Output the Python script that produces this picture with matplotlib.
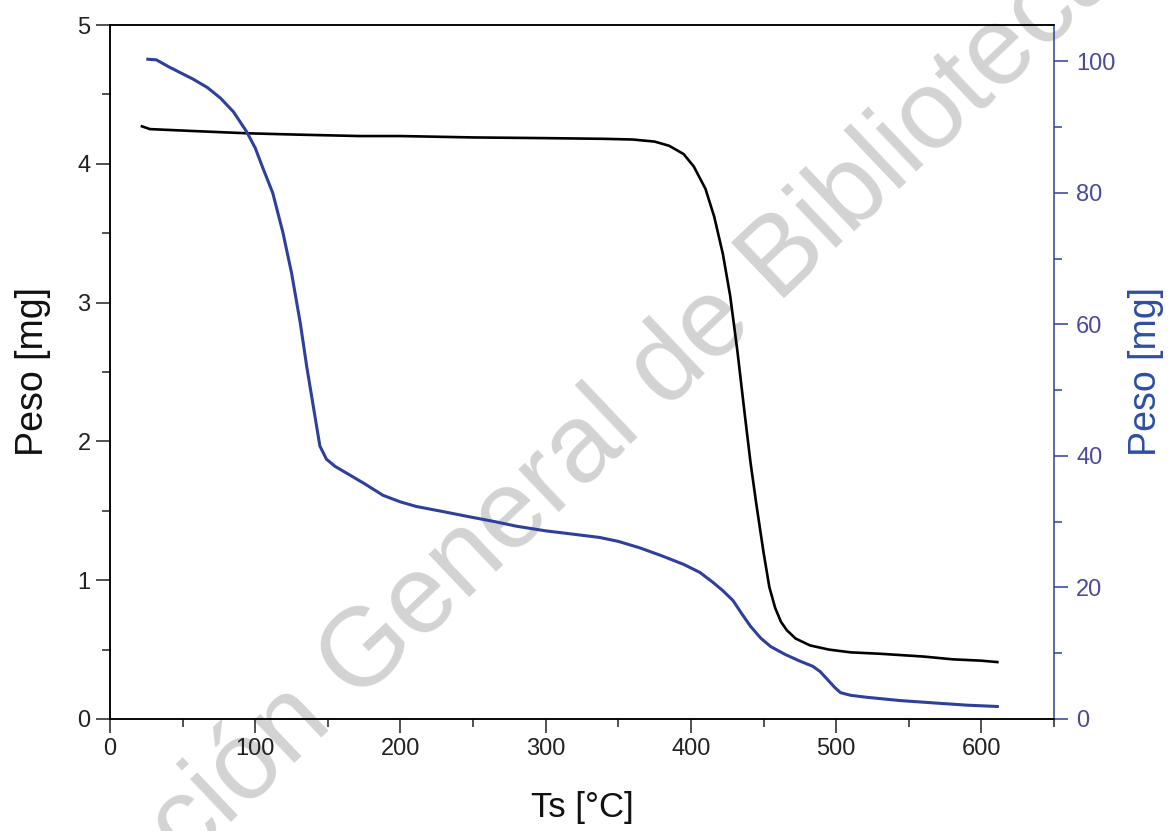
import numpy as np
import matplotlib.pyplot as plt
from matplotlib.ticker import MultipleLocator

plt.rcParams['font.family'] = ['Liberation Sans', 'DejaVu Sans']

# black curve, left axis (mg)
temp_black = [22, 27.5, 60, 94, 130, 172, 200, 250, 300, 340, 360, 375, 385, 395,
              402, 410, 416, 422, 427, 432, 437, 441, 445, 450, 454, 458, 462,
              466, 472, 482, 495, 510, 530, 545, 560, 580, 600, 611]
peso_black = [4.27, 4.25, 4.235, 4.22, 4.21, 4.20, 4.20, 4.19, 4.185, 4.18, 4.175,
              4.16, 4.13, 4.07, 3.98, 3.82, 3.62, 3.35, 3.05, 2.65, 2.20, 1.85,
              1.55, 1.20, 0.95, 0.80, 0.70, 0.64, 0.58, 0.53, 0.50, 0.48, 0.47,
              0.46, 0.45, 0.43, 0.42, 0.41]

# blue curve, right axis
temp_blue = [26, 32, 40, 48, 57, 67, 76, 85, 94, 100, 105, 112, 119, 125, 131,
             135.5, 140, 144.5, 149, 155, 165, 175, 188, 200, 211, 230, 246, 265,
             280, 300, 315, 337, 350, 365, 380, 395, 406, 415, 422, 429, 435, 441,
             448, 455, 465, 475, 484, 489, 494, 499, 503, 510, 521, 544, 570, 590, 611]
peso_blue = [100.3, 100.2, 99.2, 98.3, 97.3, 96.0, 94.4, 92.3, 89.3, 86.8, 83.9,
             80.0, 74.0, 67.8, 60.2, 53.5, 47.5, 41.5, 39.5, 38.4, 37.1, 35.8, 34.0,
             33.0, 32.3, 31.5, 30.8, 30.0, 29.3, 28.6, 28.2, 27.6, 27.0, 26.0, 24.8,
             23.5, 22.3, 20.8, 19.5, 18.0, 16.0, 14.1, 12.3, 11.0, 9.8, 8.8, 8.0,
             7.2, 6.0, 4.8, 4.0, 3.6, 3.3, 2.8, 2.4, 2.1, 1.9]

blue = '#2f3f9c'
tick_blue = '#4b4a9c'

fig = plt.figure(figsize=(11.68, 8.31), dpi=100, facecolor='white')
ax = fig.add_axes([0.0942, 0.1348, 0.8082, 0.8351])
ax.patch.set_alpha(0)
ax2 = ax.twinx()

ax.plot(temp_black, peso_black, color='black', linewidth=1.9)
ax2.plot(temp_blue, peso_blue, color=blue, linewidth=2.2)

ax.set_xlim(0, 650)
ax.set_ylim(0, 5)
ax2.set_ylim(0, 105.5)

ax.xaxis.set_major_locator(MultipleLocator(100))
ax.xaxis.set_minor_locator(MultipleLocator(50))
ax.yaxis.set_major_locator(MultipleLocator(1))
ax.yaxis.set_minor_locator(MultipleLocator(0.5))
ax2.yaxis.set_major_locator(MultipleLocator(20))
ax2.yaxis.set_minor_locator(MultipleLocator(10))

for a in (ax, ax2):
    for s in a.spines.values():
        s.set_linewidth(1.1)
ax2.spines['right'].set_color(blue)
ax.spines['right'].set_visible(False)

ax.tick_params(which='major', direction='out', length=10, width=1.1,
               labelsize=17, colors='#222222', pad=4)
ax.tick_params(which='minor', direction='out', length=6, width=1.1, colors='#222222')
ax.tick_params(top=False, right=False)
ax2.tick_params(which='major', direction='out', length=10, width=1.1,
                labelsize=17, colors=blue, labelcolor=tick_blue, pad=6)
ax2.tick_params(which='minor', direction='out', length=6, width=1.1, colors=blue)

ax.set_xlabel('Ts [°C]', fontsize=25, color='#111111', labelpad=22)
ax.set_ylabel('Peso [mg]', fontsize=27, color='#111111', labelpad=19)
ax2.set_ylabel('Peso [mg]', fontsize=27, color='#2e4ea6', labelpad=9)

# watermark
fig.text(0.482, 0.437, 'Dirección General de Bibliotecas', fontsize=80,
         color='#d4d3d4', rotation=43.5, ha='center', va='center',
         rotation_mode='anchor', zorder=-1)

fig.savefig('out.png', dpi=100, facecolor='white')
